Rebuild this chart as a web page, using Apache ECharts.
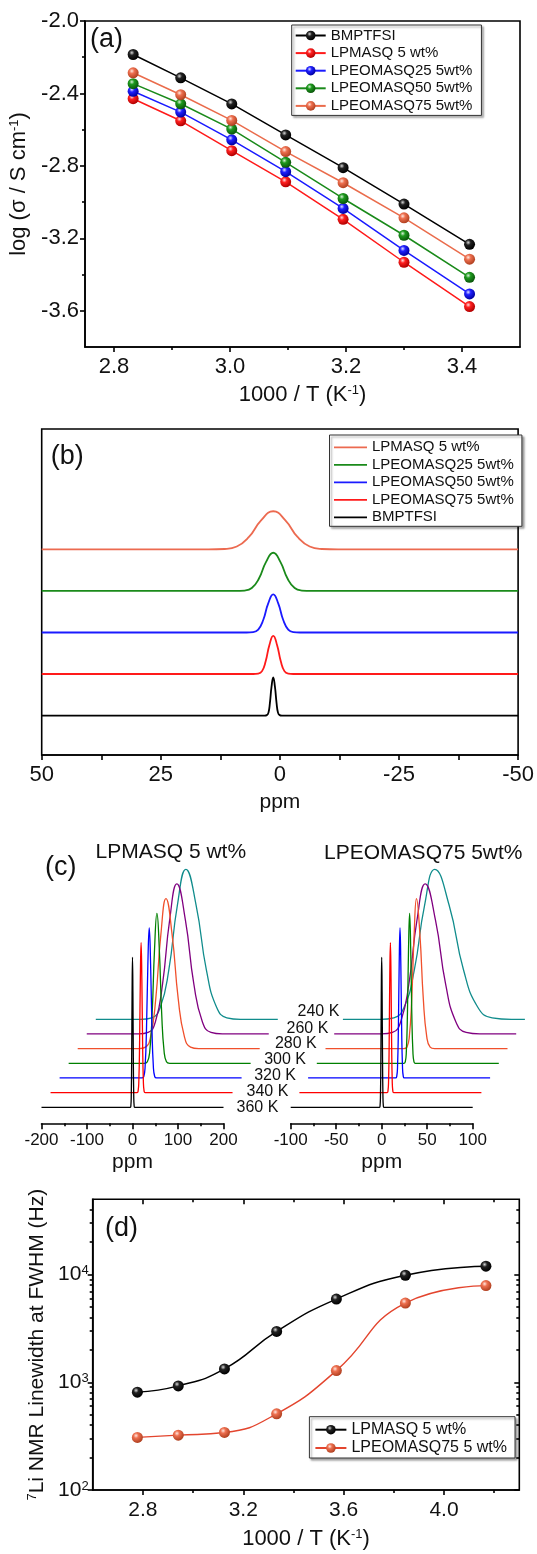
<!DOCTYPE html>
<html>
<head>
<meta charset="utf-8">
<title>Conductivity and 7Li NMR</title>
<script src="https://cdn.jsdelivr.net/npm/echarts@6/dist/echarts.min.js"></script>
<style>
  html, body { margin: 0; padding: 0; background: #fff; }
  #chart { width: 537px; height: 1554px; }
</style>
</head>
<body>
<div id="chart"></div>
<script>
// ---------- data ----------

// (a) log conductivity vs 1000/T
const invTa = [2.833, 2.915, 3.003, 3.096, 3.195, 3.300, 3.413];
const aNames = ['BMPTFSI', 'LPMASQ 5 wt%', 'LPEOMASQ25 5wt%', 'LPEOMASQ50 5wt%', 'LPEOMASQ75 5wt%'];
const aBMPTFSI = [-2.185, -2.314, -2.458, -2.629, -2.810, -3.011, -3.233];
const aLPMASQ  = [-2.429, -2.551, -2.716, -2.888, -3.095, -3.332, -3.577];
const aQ25     = [-2.388, -2.503, -2.656, -2.832, -3.035, -3.267, -3.507];
const aQ50     = [-2.346, -2.457, -2.597, -2.780, -2.980, -3.183, -3.415];
const aQ75     = [-2.286, -2.407, -2.549, -2.721, -2.893, -3.087, -3.315];
const aTicksX = [2.8, 3.0, 3.2, 3.4];
const aMinorX = [2.9, 3.1, 3.3];
const aTicksY = [-3.6, -3.2, -2.8, -2.4, -2.0];
const aMinorY = [-3.4, -3.0, -2.6, -2.2];

// (b) 7Li spectra, [ppm, intensity], stacked upwards
const bNames = ['LPMASQ 5 wt%', 'LPEOMASQ25 5wt%', 'LPEOMASQ50 5wt%', 'LPEOMASQ75 5wt%', 'BMPTFSI'];
const bLPMASQ = [[50,0],[15,0],[11.6,0.01],[9.05,0.07],[6.5,0.3],[3.95,0.7],[1.4,0.92],[-1.15,0.7],[-3.7,0.3],[-6.25,0.07],[-8.8,0.01],[-12.2,0],[-50,0]];
const bQ25 = [[50,0],[9.4,0],[7.4,0.01],[5.9,0.07],[4.4,0.3],[2.9,0.7],[1.4,0.92],[-0.1,0.7],[-1.6,0.3],[-3.1,0.07],[-4.6,0.01],[-6.6,0],[-50,0]];
const bQ50 = [[50,0],[7,0],[5.6,0.01],[4.55,0.07],[3.5,0.3],[2.45,0.7],[1.4,0.92],[0.35,0.7],[-0.7,0.3],[-1.75,0.07],[-2.8,0.01],[-4.2,0],[-50,0]];
const bQ75 = [[50,0],[5.6,0],[4.55,0.01],[3.75,0.07],[3.0,0.3],[2.2,0.7],[1.4,0.92],[0.6,0.7],[-0.2,0.3],[-0.95,0.07],[-1.75,0.01],[-2.8,0],[-50,0]];
const bBMPTFSI = [[50,0],[3.2,0],[2.75,0.01],[2.4,0.07],[2.1,0.3],[1.75,0.7],[1.4,0.92],[1.05,0.7],[0.7,0.3],[0.4,0.07],[0.05,0.01],[-0.4,0],[-50,0]];
const bOffsets = [4.95, 3.95, 2.95, 1.95, 0.95];
const bTicks = [50, 25, 0, -25, -50];

// (c) variable temperature spectra, [ppm, intensity]
const cTemps = ['360 K', '340 K', '320 K', '300 K', '280 K', '260 K', '240 K'];
const cLeftTitle = 'LPMASQ 5 wt%';
const cRightTitle = 'LPEOMASQ75 5wt%';
const cLeft = [
  [[-200,0],[-4.8,0],[-3.6,0.01],[-2.7,0.08],[-1.8,0.33],[-0.9,0.76],[0,1],[0.9,0.76],[1.8,0.33],[2.7,0.08],[3.6,0.01],[4.8,0],[200,0]],
  [[-200,0],[-9.8,0],[-7.6,0.01],[-5.95,0.08],[-4.3,0.33],[-2.65,0.76],[-1,1],[0.65,0.76],[2.3,0.33],[3.95,0.08],[5.6,0.01],[7.8,0],[200,0]],
  [[-200,0],[-19,0],[-15,0.01],[-12,0.08],[-9,0.33],[-6,0.76],[-3,1],[0,0.76],[3,0.33],[6,0.08],[9,0.01],[13,0],[200,0]],
  [[-200,0],[-34,0],[-27,0.01],[-21.75,0.08],[-16.5,0.33],[-11.25,0.76],[-6,1],[-0.75,0.76],[4.5,0.33],[9.75,0.08],[15,0.01],[22,0],[200,0]],
  [[-200,0],[-66,0],[-51,0.01],[-39.75,0.08],[-28.5,0.33],[-17.25,0.76],[-6,1],[7.5,0.76],[21,0.33],[34.5,0.08],[48,0.01],[66,0],[200,0]],
  [[-200,0],[-86,0],[-65,0.01],[-49.25,0.08],[-33.5,0.33],[-17.75,0.76],[-2,1],[16.75,0.76],[35.5,0.33],[54.25,0.08],[73,0.01],[98,0],[200,0]],
  [[-200,0],[-102,0],[-77,0.01],[-58.25,0.08],[-39.5,0.33],[-20.75,0.76],[-2,1],[20.5,0.76],[43,0.33],[65.5,0.08],[88,0.01],[118,0],[200,0]]
];
const cRight = [
  [[-100,0],[-2.4,0],[-1.8,0.01],[-1.35,0.08],[-0.9,0.33],[-0.45,0.76],[0,1],[0.45,0.76],[0.9,0.33],[1.35,0.08],[1.8,0.01],[2.4,0],[100,0]],
  [[-100,0],[-3.6,0],[-2.7,0.01],[-2.0,0.08],[-1.35,0.33],[-0.7,0.76],[0,1],[0.7,0.76],[1.35,0.33],[2.0,0.08],[2.7,0.01],[3.6,0],[100,0]],
  [[-100,0],[-3.8,0],[-2.6,0.01],[-1.7,0.08],[-0.8,0.33],[0.1,0.76],[1,1],[1.9,0.76],[2.8,0.33],[3.7,0.08],[4.6,0.01],[5.8,0],[100,0]],
  [[-100,0],[-4.4,0],[-2.8,0.01],[-1.6,0.08],[-0.4,0.33],[0.8,0.76],[2,1],[3.2,0.76],[4.4,0.33],[5.6,0.08],[6.8,0.01],[8.4,0],[100,0]],
  [[-100,0],[-14,0],[-10.5,0.01],[-7.9,0.08],[-5.25,0.33],[-2.6,0.76],[0,1],[3.75,0.76],[7.5,0.33],[11.25,0.08],[15,0.01],[20,0],[100,0]],
  [[-100,0],[-48,0],[-36,0.01],[-27,0.08],[-18,0.33],[-9,0.76],[0,1],[11.25,0.76],[22.5,0.33],[33.75,0.08],[45,0.01],[60,0],[100,0]],
  [[-100,0],[-59,0],[-44,0.01],[-32.75,0.08],[-21.5,0.33],[-10.25,0.76],[1,1],[16.75,0.76],[32.5,0.33],[48.25,0.08],[64,0.01],[85,0],[100,0]]
];

// (d) 7Li linewidth vs 1000/T
const invTd = [2.778, 2.941, 3.125, 3.333, 3.571, 3.846, 4.167];
const dNames = ['LPMASQ 5 wt%', 'LPEOMASQ75 5 wt%'];
const dLPMASQ = [810, 926, 1331, 2965, 5930, 9860, 11960];
const dQ75 = [308, 323, 342, 510, 1284, 5445, 7900];
const dTicksX = [2.8, 3.2, 3.6, 4.0];
const dMinorX = [3.0, 3.4, 3.8, 4.2];
const dTicksY = [100, 1000, 10000];
const dMinorY = [200, 300, 400, 500, 600, 700, 800, 900, 2000, 3000, 4000, 5000, 6000, 7000, 8000, 9000, 20000, 30000, 40000];

// ---------- styles ----------
const FONT = '"Liberation Sans", Arial, sans-serif';
const INK = '#111';
const AX = { color: '#000', width: 1.6 };

function ball(base, dark, hi) {
  return { type: 'radial', x: 0.38, y: 0.34, r: 0.66,
    colorStops: [{ offset: 0, color: hi }, { offset: 0.35, color: base }, { offset: 1, color: dark }] };
}
function sup(size) {
  return { sup: { fontSize: size, verticalAlign: 'top', fontFamily: FONT, color: INK } };
}

const grids = [], xAxes = [], yAxes = [], series = [], legends = [], graphics = [];
const addGrid = g => (grids.push(g), grids.length - 1);
const addX = a => (xAxes.push(a), xAxes.length - 1);
const addY = a => (yAxes.push(a), yAxes.length - 1);

// tick-only overlay axis
function tickAxis(grid, pos, type, min, max, values, len, inside) {
  return { gridIndex: grid, type, position: pos, min, max,
    axisLine: { show: false, onZero: false },
    axisTick: { show: true, inside: !!inside, length: len, customValues: values, lineStyle: AX },
    axisLabel: { show: false }, splitLine: { show: false } };
}

// ---------- (a) ----------
const gA = addGrid({ left: 85, top: 21, width: 435, height: 326, show: true, borderColor: '#000', borderWidth: 1.6 });
const xA = addX({ gridIndex: gA, type: 'value', position: 'bottom', min: 2.75, max: 3.5,
  name: '1000 / T (K{sup|-1})', nameLocation: 'middle', nameGap: 37,
  nameTextStyle: { fontSize: 22, color: INK, fontFamily: FONT, rich: sup(13) },
  axisLine: { onZero: false, lineStyle: AX },
  axisTick: { length: 5, customValues: aTicksX, lineStyle: AX },
  axisLabel: { customValues: aTicksX, formatter: v => v.toFixed(1), fontSize: 22, color: INK, margin: 9 },
  splitLine: { show: false } });
addX(tickAxis(gA, 'bottom', 'value', 2.75, 3.5, aMinorX, 3));
const yA = addY({ gridIndex: gA, type: 'value', position: 'left', min: -3.8, max: -2.0,
  name: 'log (σ / S cm{sup|-1})', nameLocation: 'middle', nameGap: 44,
  nameTextStyle: { fontSize: 22, color: INK, fontFamily: FONT, rich: sup(13) },
  axisLine: { onZero: false, lineStyle: AX },
  axisTick: { length: 5, customValues: aTicksY, lineStyle: AX },
  axisLabel: { customValues: aTicksY, formatter: v => v.toFixed(1), fontSize: 22, color: INK, margin: 6 },
  splitLine: { show: false } });
addY(tickAxis(gA, 'left', 'value', -3.8, -2.0, aMinorY, 3));

const aSets = [aBMPTFSI, aLPMASQ, aQ25, aQ50, aQ75];
const aLine = ['#000000', '#ff1a1a', '#1a1aff', '#1a8a1a', '#ea6c4c'];
const aBall = [ball('#222', '#000', '#d8d8d8'), ball('#ff2020', '#b00000', '#ffe0e0'),
  ball('#2020ff', '#0000a0', '#e0e0ff'), ball('#1e9a1e', '#0a560a', '#d8f0d8'), ball('#ee7050', '#b04020', '#ffe8e0')];
aNames.forEach((n, i) => series.push({ type: 'line', name: n, xAxisIndex: xA, yAxisIndex: yA,
  data: invTa.map((x, j) => [x, aSets[i][j]]), symbol: 'circle', symbolSize: 11,
  itemStyle: { color: aBall[i] }, lineStyle: { color: aLine[i], width: 1.5 } }));
legends.push({ data: aNames, orient: 'vertical', left: 291.7, top: 25, itemWidth: 30, itemHeight: 12, itemGap: 2.6,
  padding: [3, 9, 2, 3], backgroundColor: '#fff', borderColor: '#333', borderWidth: 1,
  shadowColor: 'rgba(0,0,0,0.35)', shadowBlur: 2, shadowOffsetX: 2, shadowOffsetY: 2,
  textStyle: { fontSize: 15, lineHeight: 15, color: INK, fontFamily: FONT } });

// ---------- (b) ----------
const gB = addGrid({ left: 41.7, top: 429, width: 479.3, height: 326, show: true, borderColor: '#000', borderWidth: 1.6 });
const xB = addX({ gridIndex: gB, type: 'value', position: 'bottom', min: -50, max: 50, interval: 12.5, inverse: true,
  name: 'ppm', nameLocation: 'middle', nameGap: 37,
  nameTextStyle: { fontSize: 21, color: INK, fontFamily: FONT },
  axisLine: { onZero: false, lineStyle: AX },
  axisTick: { length: 5, lineStyle: AX },
  axisLabel: { customValues: bTicks, fontSize: 22, color: INK, margin: 9 },
  splitLine: { show: false } });
const yB = addY({ gridIndex: gB, type: 'value', min: 0, max: 7.85, show: false, axisLine: { onZero: false } });
const bSets = [bLPMASQ, bQ25, bQ50, bQ75, bBMPTFSI];
const bColors = ['#ec6a50', '#1a8a1a', '#1a1aff', '#ff1a1a', '#000000'];
const bLegendNames = bNames.map(n => n + ' ');
bLegendNames.forEach((n, i) => series.push({ type: 'line', name: n, xAxisIndex: xB, yAxisIndex: yB,
  data: bSets[i].map(p => [p[0], p[1] + bOffsets[i]]), smooth: true, symbol: 'none',
  itemStyle: { color: bColors[i] }, lineStyle: { color: bColors[i], width: 1.8 } }));
legends.push({ data: bLegendNames, orient: 'vertical', left: 329.5, top: 435, icon: 'rect', itemWidth: 33, itemHeight: 1.8, itemGap: 2.5,
  padding: [4.8, 4, 1.5, 4.5], backgroundColor: '#fff', borderColor: '#333', borderWidth: 1,
  shadowColor: 'rgba(0,0,0,0.35)', shadowBlur: 2, shadowOffsetX: 2, shadowOffsetY: 2,
  textStyle: { fontSize: 15, lineHeight: 15, color: INK, fontFamily: FONT } });

// ---------- (c) ----------
const C = { leftX0: 41.5, rightX0: 290.7, w: 182, leftDx: 9.05, rightDx: 8.7, baseY: 1107.3, dy: 14.67, h: 150, axisY: 1123.3 };
const cColors = ['#000000', '#ff0000', '#0000ff', '#008000', '#f0502c', '#800080', '#108c8c'];
function stack(sets, x0, dx, range) {
  sets.forEach((data, k) => {
    const g = addGrid({ left: x0 + k * dx, top: C.baseY - k * C.dy - C.h, width: C.w, height: C.h });
    const xi = addX({ gridIndex: g, type: 'value', min: -range, max: range, show: false, axisLine: { onZero: false } });
    const yi = addY({ gridIndex: g, type: 'value', min: 0, max: 1, show: false, axisLine: { onZero: false } });
    series.push({ type: 'line', xAxisIndex: xi, yAxisIndex: yi, data, smooth: true, symbol: 'none', clip: false,
      z: 10 - k, lineStyle: { color: cColors[k], width: 1.3 } });
  });
  const ga = addGrid({ left: x0, top: C.axisY - 20, width: C.w, height: 20 });
  addX({ gridIndex: ga, type: 'value', position: 'bottom', min: -range, max: range, interval: range / 2,
    name: 'ppm', nameLocation: 'middle', nameGap: 28,
    nameTextStyle: { fontSize: 21, color: INK, fontFamily: FONT },
    axisLine: { onZero: false, lineStyle: AX },
    axisTick: { length: 6, lineStyle: AX },
    minorTick: { show: true, splitNumber: 2, length: 3, lineStyle: AX },
    axisLabel: { fontSize: 17, color: INK, margin: 9 },
    splitLine: { show: false }, minorSplitLine: { show: false } });
  addY({ gridIndex: ga, type: 'value', min: 0, max: 1, show: false, axisLine: { onZero: false } });
}
stack(cLeft, C.leftX0, C.leftDx, 200);
stack(cRight, C.rightX0, C.rightDx, 100);

const tempRight = [278.3, 288.3, 296, 306, 316.7, 328.3, 339.3];
const tempY = [1107.3, 1091.7, 1076, 1059.3, 1043.3, 1028.3, 1011.7];
cTemps.forEach((t, k) => graphics.push({ type: 'text', x: tempRight[k], y: tempY[k],
  style: { text: t, fontSize: 16, fontFamily: FONT, fill: INK, align: 'right', verticalAlign: 'middle' } }));
graphics.push({ type: 'text', x: 170.8, y: 852, style: { text: cLeftTitle, fontSize: 21, fontFamily: FONT, fill: INK, align: 'center', verticalAlign: 'middle' } });
graphics.push({ type: 'text', x: 423.3, y: 853, style: { text: cRightTitle, fontSize: 21, fontFamily: FONT, fill: INK, align: 'center', verticalAlign: 'middle' } });

// ---------- (d) ----------
const gD = addGrid({ left: 92.7, top: 1199.3, width: 426.6, height: 290.7, show: true, borderColor: '#000', borderWidth: 1.6 });
const xD = addX({ gridIndex: gD, type: 'value', position: 'bottom', min: 2.6, max: 4.3,
  name: '1000 / T (K{sup|-1})', nameLocation: 'middle', nameGap: 38,
  nameTextStyle: { fontSize: 22, color: INK, fontFamily: FONT, rich: sup(13) },
  axisLine: { onZero: false, lineStyle: AX },
  axisTick: { length: 5, customValues: dTicksX, lineStyle: AX },
  axisLabel: { customValues: dTicksX, formatter: v => v.toFixed(1), fontSize: 21, color: INK, margin: 10 },
  splitLine: { show: false } });
addX(tickAxis(gD, 'bottom', 'value', 2.6, 4.3, dMinorX, 3));
addX(tickAxis(gD, 'top', 'value', 2.6, 4.3, dTicksX, 5, true));
addX(tickAxis(gD, 'top', 'value', 2.6, 4.3, dMinorX, 3, true));
const yD = addY({ gridIndex: gD, type: 'log', logBase: 10, position: 'left', min: 100, max: 50000,
  name: '{sup|7}Li NMR Linewidth at FWHM (Hz)', nameLocation: 'middle', nameGap: 41,
  nameTextStyle: { fontSize: 21, color: INK, fontFamily: FONT, rich: sup(13) },
  axisLine: { onZero: false, lineStyle: AX },
  axisTick: { length: 5, customValues: dTicksY, lineStyle: AX },
  axisLabel: { customValues: dTicksY, formatter: v => '10{sup|' + Math.round(Math.log10(v)) + '}',
    fontSize: 21, color: INK, margin: 4, rich: sup(13) },
  splitLine: { show: false } });
addY(tickAxis(gD, 'left', 'log', 100, 50000, dMinorY, 3));
addY(tickAxis(gD, 'right', 'log', 100, 50000, dTicksY, 5, true));
addY(tickAxis(gD, 'right', 'log', 100, 50000, dMinorY, 3, true));

const dSets = [dLPMASQ, dQ75];
const dLine = ['#000000', '#e3452e'];
const dBall = [ball('#222', '#000', '#d8d8d8'), ball('#ee7050', '#b04020', '#ffe8e0')];
const dLegendNames = [dNames[0] + '  ', dNames[1]];
dLegendNames.forEach((n, i) => series.push({ type: 'line', name: n, xAxisIndex: xD, yAxisIndex: yD,
  data: invTd.map((x, j) => [x, dSets[i][j]]), smooth: true, symbol: 'circle', symbolSize: 11,
  itemStyle: { color: dBall[i] }, lineStyle: { color: dLine[i], width: 1.4 } }));
legends.push({ data: dLegendNames, orient: 'vertical', left: 309.4, top: 1416.7, itemWidth: 31, itemHeight: 12, itemGap: 2.3,
  padding: [5, 8, 2, 5], backgroundColor: '#fff', borderColor: '#333', borderWidth: 1,
  shadowColor: 'rgba(0,0,0,0.35)', shadowBlur: 2, shadowOffsetX: 2, shadowOffsetY: 2,
  textStyle: { fontSize: 16, lineHeight: 16, color: INK, fontFamily: FONT } });

// panel letters
[['(a)', 90, 40], ['(b)', 50.7, 457], ['(c)', 45, 868], ['(d)', 105, 1229]].forEach(p =>
  graphics.push({ type: 'text', x: p[1], y: p[2],
    style: { text: p[0], fontSize: 27, fontFamily: FONT, fill: INK, verticalAlign: 'middle' } }));

const chart = echarts.init(document.getElementById('chart'), null, { renderer: 'canvas' });
chart.setOption({
  animation: false,
  backgroundColor: '#fff',
  textStyle: { fontFamily: FONT },
  grid: grids, xAxis: xAxes, yAxis: yAxes, series, legend: legends, graphic: graphics
});
</script>
</body>
</html>
